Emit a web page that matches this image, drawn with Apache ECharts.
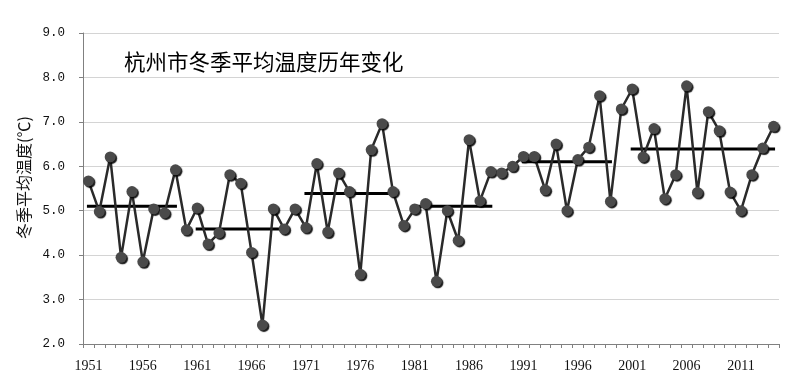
<!DOCTYPE html>
<html><head><meta charset="utf-8">
<script src="https://cdn.jsdelivr.net/npm/echarts@6/dist/echarts.min.js"></script>
<style>html,body{margin:0;padding:0;background:#fff}#c{width:800px;height:379px}</style>
</head><body><div id="c"></div>
<script>
var years = [];
for (var y = 1951; y <= 2014; y++) years.push(String(y));
var temps = [5.67,4.98,6.21,3.95,5.43,3.85,5.04,4.95,5.92,4.57,
             5.06,4.25,4.50,5.81,5.62,4.06,2.43,5.04,4.59,5.04,
             4.62,6.06,4.52,5.85,5.43,3.57,6.37,6.96,5.43,4.67,
             5.04,5.16,3.41,5.00,4.33,6.60,5.22,5.88,5.85,6.00,
             6.22,6.22,5.47,6.50,5.00,6.15,6.43,7.59,5.21,7.29,
             7.74,6.21,6.85,5.27,5.81,7.81,5.41,7.23,6.80,5.42,
             5.00,5.81,6.41,6.90];
var periodStart = ['1951','1961','1971','1981','1991','2001'];
var periodEnd   = ['1959','1969','1979','1988','1999','2014'];
var periodMean  = [5.10,4.59,5.39,5.10,6.10,6.39];
var title = '杭州市冬季平均温度历年变化';
var yName = '冬季平均温度(℃)';

var meanSeries = periodMean.map(function(m, i){
  var s = years.indexOf(periodStart[i]), e = years.indexOf(periodEnd[i]);
  var d = years.map(function(_, k){ return (k >= s && k <= e) ? m : null; });
  return {type:'line', data:d, symbol:'none', silent:true, z:3,
          lineStyle:{color:'#000', width:3, cap:'square'}, connectNulls:false};
});

var chart = echarts.init(document.getElementById('c'), null, {renderer:'canvas'});
chart.setOption({
  animation:false,
  backgroundColor:'#fff',
  title:{text:title, left:119, top:46,
    textStyle:{fontFamily:'Noto Sans CJK SC', fontWeight:'normal', fontSize:21.5, color:'#000'}},
  grid:{left:83, right:21, top:33, bottom:35, containLabel:false},
  xAxis:{type:'category', data:years, boundaryGap:true,
    axisLine:{lineStyle:{color:'#808080', width:1}},
    axisTick:{show:true, interval:0, length:4, inside:false, lineStyle:{color:'#808080'}},
    axisLabel:{interval:4, margin:15, color:'#111', fontSize:14, fontFamily:'Liberation Serif'},
    splitLine:{show:false}},
  yAxis:{type:'value', min:2, max:9, interval:1,
    name:yName, nameLocation:'middle', nameGap:47, nameRotate:90,
    nameTextStyle:{fontFamily:'Noto Sans CJK SC', fontSize:16, color:'#111', padding:[0,0,0,22]},
    axisLine:{show:true, lineStyle:{color:'#808080'}},
    axisTick:{show:true, length:4, lineStyle:{color:'#808080'}},
    axisLabel:{formatter:function(v){return v.toFixed(1);}, margin:18, color:'#111', fontSize:12.5, fontFamily:'Liberation Mono'},
    splitLine:{lineStyle:{color:'#d4d4d4', width:1}}},
  series:[{type:'line', data:temps, z:4, symbol:'circle', symbolSize:11, showAllSymbol:true,
    lineStyle:{color:'#2a2a2a', width:2.5},
    itemStyle:{color:'#4a4a4a', borderWidth:0, shadowColor:'rgba(0,0,0,0.9)', shadowBlur:1, shadowOffsetX:1.5, shadowOffsetY:1.5}
  }].concat(meanSeries)
});
</script></body></html>
